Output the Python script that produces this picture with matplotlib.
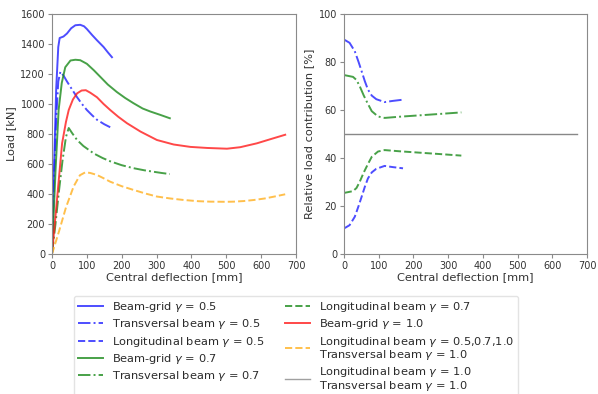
import matplotlib
matplotlib.use("Agg")
import matplotlib.pyplot as plt

# load-deflection curves (left)
grid05_x = [0, 5, 12, 18, 22, 33, 43, 55, 67, 81, 92, 100, 115, 129, 148, 160, 172]
grid05_y = [0, 500, 1100, 1380, 1440, 1450, 1470, 1505, 1525, 1528, 1518, 1500, 1460, 1425, 1380, 1345, 1312]
trans05_x = [0, 5, 12, 18, 24, 33, 43, 58, 72, 86, 100, 115, 129, 150, 167]
trans05_y = [0, 450, 900, 1150, 1215, 1190, 1150, 1095, 1045, 1000, 960, 925, 895, 865, 845]
grid07_x = [0, 10, 19, 28, 38, 53, 67, 81, 100, 120, 139, 160, 186, 210, 234, 260, 282, 310, 338]
grid07_y = [0, 550, 960, 1140, 1245, 1290, 1295, 1292, 1268, 1225, 1180, 1130, 1080, 1040, 1005, 970, 950, 928, 905]
trans07_x = [0, 10, 20, 30, 40, 48, 58, 72, 90, 120, 145, 167, 200, 234, 265, 292, 315, 338]
trans07_y = [0, 200, 420, 620, 780, 840, 805, 760, 720, 670, 640, 618, 592, 572, 558, 548, 540, 533]
grid10_x = [0, 15, 29, 40, 48, 60, 72, 85, 97, 110, 129, 148, 167, 190, 215, 254, 301, 349, 397, 445, 502, 540, 588, 626, 669]
grid10_y = [0, 380, 738, 880, 960, 1030, 1071, 1090, 1092, 1075, 1045, 1000, 960, 915, 872, 816, 760, 730, 714, 707, 702, 712, 738, 765, 795]
long_x = [0, 20, 40, 62, 80, 96, 110, 129, 148, 167, 200, 234, 270, 301, 340, 378, 420, 454, 500, 521, 550, 579, 610, 636, 669]
long_y = [0, 150, 310, 450, 525, 545, 540, 527, 505, 482, 452, 427, 402, 383, 370, 360, 352, 349, 348, 349, 353, 360, 370, 382, 398]

# relative load contribution (right)
rtrans05_x = [2, 16, 31, 42, 50, 60, 69, 80, 93, 117, 141, 170]
rtrans05_y = [89.2, 88.0, 84.5, 80.0, 76.5, 72.0, 68.5, 66.0, 64.5, 63.3, 63.8, 64.3]
rlong05_x = [2, 16, 31, 42, 50, 60, 69, 80, 93, 117, 141, 170]
rlong05_y = [10.8, 12.0, 15.5, 20.0, 23.5, 28.0, 31.5, 34.0, 35.5, 36.7, 36.2, 35.7]
rtrans07_x = [2, 26, 36, 45, 57, 69, 80, 98, 117, 160, 220, 280, 338]
rtrans07_y = [74.5, 73.8, 72.5, 70.0, 66.0, 62.5, 59.5, 57.3, 56.7, 57.2, 57.8, 58.4, 59.0]
rlong07_x = [2, 26, 36, 45, 57, 69, 80, 98, 117, 160, 220, 280, 338]
rlong07_y = [25.5, 26.2, 27.5, 30.0, 34.0, 37.5, 40.5, 42.7, 43.3, 42.8, 42.2, 41.6, 41.0]
ref_x = [0, 670]
ref_y = [50, 50]

labels = [
    "Beam-grid $\\gamma$ = 0.5",
    "Transversal beam $\\gamma$ = 0.5",
    "Longitudinal beam $\\gamma$ = 0.5",
    "Beam-grid $\\gamma$ = 0.7",
    "Transversal beam $\\gamma$ = 0.7",
    "Longitudinal beam $\\gamma$ = 0.7",
    "Beam-grid $\\gamma$ = 1.0",
    "Longitudinal beam $\\gamma$ = 0.5,0.7,1.0\nTransversal beam $\\gamma$ = 1.0",
    "Longitudinal beam $\\gamma$ = 1.0\nTransversal beam $\\gamma$ = 1.0",
]

plt.rcParams["font.size"] = 7
plt.rcParams["axes.edgecolor"] = "#8a8a8a"
plt.rcParams["xtick.color"] = "#8a8a8a"
plt.rcParams["ytick.color"] = "#8a8a8a"
plt.rcParams["xtick.labelcolor"] = "#333333"
plt.rcParams["ytick.labelcolor"] = "#333333"
plt.rcParams["axes.labelcolor"] = "#333333"
plt.rcParams["text.color"] = "#2a2a2a"

W, H = 598, 394
fig = plt.figure(figsize=(W / 100, H / 100), dpi=100)
ax1 = fig.add_axes([52 / W, 1 - 254 / H, 244 / W, 240 / H])
ax2 = fig.add_axes([344 / W, 1 - 254 / H, 243 / W, 240 / H])

lw = 1.4
al = 0.8
blue, green, red, orange, grey = "#2020ff", "#1a8a1a", "#ff1a1a", "#ffb01f", "#888888"

ax1.plot(grid05_x, grid05_y, color=blue, lw=lw, alpha=al)
ax1.plot(trans05_x, trans05_y, color=blue, lw=lw, ls="-.", alpha=al)
ax1.plot(grid07_x, grid07_y, color=green, lw=lw, alpha=al)
ax1.plot(trans07_x, trans07_y, color=green, lw=lw, ls="-.", alpha=al)
ax1.plot(grid10_x, grid10_y, color=red, lw=lw, alpha=al)
ax1.plot(long_x, long_y, color=orange, lw=lw, ls="--", alpha=al)

ax2.plot(rtrans05_x, rtrans05_y, color=blue, lw=lw, ls="-.", alpha=al)
ax2.plot(rlong05_x, rlong05_y, color=blue, lw=lw, ls="--", alpha=al)
ax2.plot(rtrans07_x, rtrans07_y, color=green, lw=lw, ls="-.", alpha=al)
ax2.plot(rlong07_x, rlong07_y, color=green, lw=lw, ls="--", alpha=al)
ax2.plot(ref_x, ref_y, color=grey, lw=1.0)

# legend handles in legend order
styles = [(blue, "-"), (blue, "-."), (blue, "--"), (green, "-"), (green, "-."),
          (green, "--"), (red, "-"), (orange, "--"), (grey, "-")]
handles = [plt.Line2D([], [], color=c, ls=s, lw=lw if c != grey else 1.0, alpha=al)
           for c, s in styles]

ax1.set_xlim(0, 700)
ax1.set_ylim(0, 1600)
ax1.set_xticks(range(0, 701, 100))
ax1.set_yticks(range(0, 1601, 200))
ax1.set_xlabel("Central deflection [mm]", fontsize=8.2, labelpad=1)
ax1.set_ylabel("Load [kN]", fontsize=8.2, labelpad=3)

ax2.set_xlim(0, 700)
ax2.set_ylim(0, 100)
ax2.set_xticks(range(0, 701, 100))
ax2.set_yticks(range(0, 101, 20))
ax2.set_xlabel("Central deflection [mm]", fontsize=8.2, labelpad=1)
ax2.set_ylabel("Relative load contribution [%]", fontsize=8.2, labelpad=3)

for a in (ax1, ax2):
    a.tick_params(length=3, width=0.8, pad=2)

leg = fig.legend(handles, labels, ncol=2, loc="upper center",
                 bbox_to_anchor=(296 / W, 1 - 290 / H), fontsize=8.2,
                 handlelength=2.2, handletextpad=0.8, columnspacing=1.75,
                 labelspacing=0.3, borderpad=0.35,
                 frameon=True, edgecolor="#dddddd")
for t in leg.get_texts():
    t.set_linespacing(0.95)

fig.savefig("out.png", dpi=100)
